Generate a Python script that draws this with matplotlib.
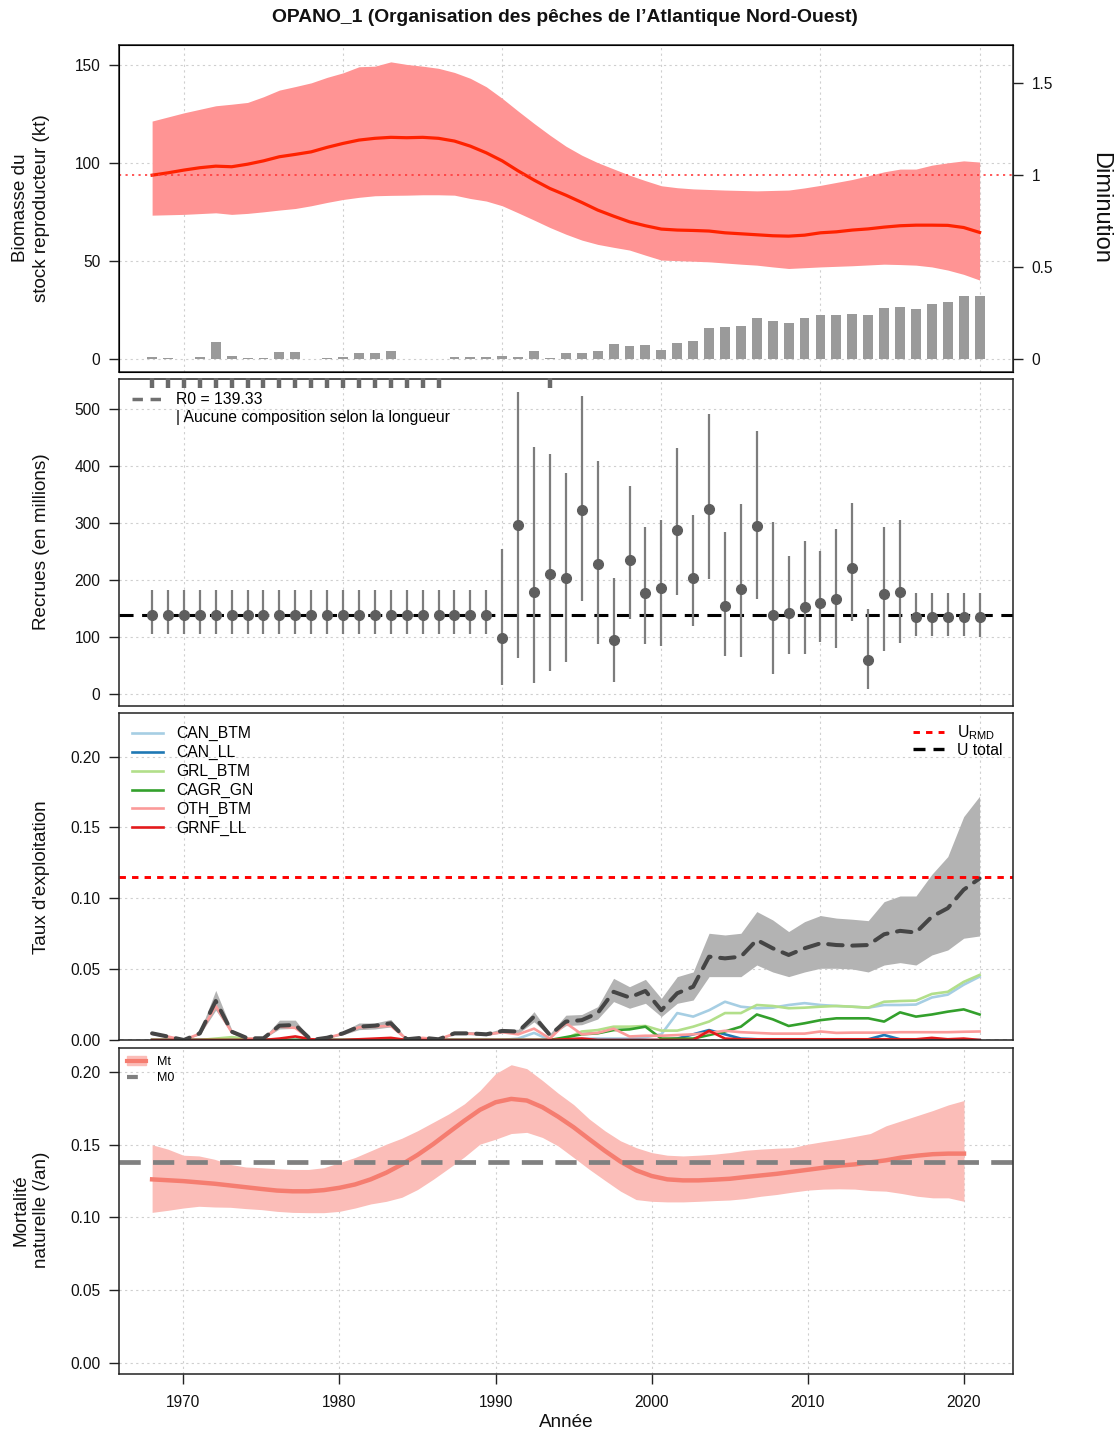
import numpy as np
import matplotlib
matplotlib.use("Agg")
import matplotlib.pyplot as plt
from matplotlib.lines import Line2D
from matplotlib.patches import Patch

plt.rcParams['font.family'] = ['Liberation Sans', 'DejaVu Sans']

# ---- données -------------------------------------------------------------
annees = np.arange(1968, 2021)

# biomasse du stock reproducteur (kt) : médiane et intervalle
ssb_med = [94.0, 95.2, 96.6, 97.8, 98.6, 98.3, 99.6, 101.3, 103.4, 104.6,
           105.9, 108.2, 110.2, 111.9, 112.8, 113.3, 113.1, 113.3, 112.8, 111.4,
           108.8, 105.4, 101.3, 96.2, 91.5, 87.2, 83.8, 80.1, 76.2, 73.1,
           70.2, 68.2, 66.5, 66.0, 65.8, 65.5, 64.6, 64.1, 63.6, 63.1,
           62.9, 63.4, 64.6, 65.1, 66.0, 66.6, 67.5, 68.2, 68.5, 68.5,
           68.4, 67.3, 64.8]
ssb_haut = [121.6, 123.7, 125.8, 127.6, 129.4, 130.2, 131.1, 134.0, 137.4, 139.2,
            141.1, 143.9, 146.2, 149.3, 149.6, 151.8, 150.5, 149.6, 148.5, 146.4,
            143.4, 139.1, 133.2, 126.7, 120.4, 114.4, 108.8, 104.2, 100.4, 97.2,
            94.0, 91.2, 88.6, 87.6, 87.0, 86.7, 86.4, 86.2, 86.0, 86.2,
            86.4, 87.5, 88.8, 90.3, 91.8, 93.7, 95.7, 97.1, 97.1, 99.1,
            100.3, 101.3, 100.7]
ssb_bas = [73.6, 73.8, 74.0, 74.4, 74.8, 74.0, 74.5, 75.3, 76.2, 77.0,
           78.4, 80.1, 81.6, 82.7, 83.5, 83.7, 83.8, 84.0, 84.0, 83.8,
           82.1, 80.8, 78.4, 74.8, 71.1, 67.3, 63.9, 60.9, 58.7, 57.2,
           55.8, 53.2, 50.7, 50.4, 50.1, 49.8, 49.2, 48.6, 48.1, 47.2,
           46.4, 46.8, 47.2, 47.5, 47.8, 48.2, 48.6, 48.4, 48.1, 47.2,
           45.6, 43.4, 40.5]
captures = [1.0, 0.5, 0.1, 1.0, 9.0, 1.9, 0.6, 0.6, 3.6, 3.6,
            0.2, 0.6, 1.0, 3.1, 3.1, 4.3, 0.1, 0.3, 0.1, 1.4,
            1.4, 1.4, 1.6, 1.4, 4.4, 0.6, 3.5, 3.3, 4.1, 7.8,
            6.8, 7.6, 4.7, 8.5, 9.5, 16.1, 16.3, 17.1, 21.2, 19.7,
            18.4, 20.9, 22.9, 22.6, 23.1, 22.8, 26.2, 26.9, 25.8, 28.2,
            29.1, 32.6, 32.3]
b0 = 94.0

# recrues (en millions)
r0 = 139.33
rec_med = [139.33] * 22 + [
    98.6, 296, 179, 210, 204, 323, 228, 95, 235, 177,
    187, 288, 204, 325, 154, 184, 295, 138, 142, 153,
    160, 167, 221, 59, 175, 179, 135, 135, 135, 135, 135]
rec_haut = [182] * 22 + [
    255, 531, 434, 421, 388, 523, 409, 204, 365, 293,
    305, 432, 315, 491, 285, 333, 462, 302, 242, 268,
    251, 289, 336, 150, 293, 306, 177, 177, 177, 178, 178]
rec_bas = [106] * 22 + [
    15, 63, 19, 41, 57, 164, 87, 22, 132, 87,
    85, 174, 119, 202, 66, 65, 166, 35, 70, 70,
    91, 80, 129, 9, 76, 89, 102, 102, 102, 101, 100]
annees_comp = list(range(1968, 1987)) + [1993]

# taux d'exploitation
u_total = [0.0047, 0.0024, 0.0, 0.0047, 0.0275, 0.0059, 0.0012, 0.0012, 0.0101, 0.0106,
           0.0, 0.0016, 0.0047, 0.0094, 0.0101, 0.0118, 0.0005, 0.0016, 0.0005, 0.0047,
           0.0047, 0.004, 0.0064, 0.0059, 0.0165, 0.0035, 0.013, 0.014, 0.019, 0.034,
           0.030, 0.0346, 0.021, 0.033, 0.0376, 0.0588, 0.0576, 0.0588, 0.0706, 0.0647,
           0.060, 0.0647, 0.0682, 0.067, 0.0666, 0.067, 0.0746, 0.077, 0.0758, 0.087,
           0.093, 0.106, 0.114]
u_haut = [0.006, 0.003, 0.0, 0.006, 0.035, 0.0075, 0.0015, 0.0015, 0.014, 0.014,
          0.0, 0.002, 0.006, 0.012, 0.012, 0.0145, 0.0008, 0.002, 0.0008, 0.006,
          0.006, 0.005, 0.008, 0.0075, 0.020, 0.0045, 0.0175, 0.018, 0.0235, 0.0435,
          0.0376, 0.0428, 0.0294, 0.0447, 0.048, 0.0753, 0.0741, 0.0753, 0.0906, 0.0847,
          0.0765, 0.0835, 0.0878, 0.086, 0.0852, 0.0842, 0.0976, 0.1016, 0.1016, 0.1169,
          0.1294, 0.1576, 0.172]
u_bas = [0.0037, 0.0019, 0.0, 0.0037, 0.021, 0.0046, 0.0009, 0.0009, 0.0078, 0.0082,
         0.0, 0.0012, 0.0037, 0.0073, 0.0078, 0.0092, 0.0004, 0.0012, 0.0004, 0.0037,
         0.0037, 0.0031, 0.005, 0.0046, 0.0128, 0.0027, 0.0101, 0.0108, 0.0148, 0.0271,
         0.0224, 0.0259, 0.0165, 0.0259, 0.0282, 0.0447, 0.0447, 0.0447, 0.0529, 0.048,
         0.0447, 0.048, 0.0506, 0.0506, 0.0501, 0.048, 0.0529, 0.0546, 0.0529, 0.060,
         0.0635, 0.0718, 0.0734]
u_rmd = 0.1153

flottilles = ['CAN_BTM', 'CAN_LL', 'GRL_BTM', 'CAGR_GN', 'OTH_BTM', 'GRNF_LL']
couleurs_flottilles = ['#a6cee3', '#1f78b4', '#b2df8a', '#33a02c', '#fb9a99', '#e31a1c']
u_can_btm = [0.0] * 23 + [0.001, 0.005, 0.0, 0.001, 0.001, 0.001, 0.001,
                          0.001, 0.002, 0.004, 0.019, 0.0165, 0.021, 0.027, 0.0235, 0.0224, 0.0228,
                          0.0247, 0.026, 0.0247, 0.024, 0.0235, 0.0228, 0.0247, 0.0247, 0.025, 0.030,
                          0.032, 0.039, 0.0447]
u_can_ll = [0.0] * 33 + [0.001, 0.004, 0.007, 0.004, 0.001, 0.0005, 0.0,
                         0.0, 0.0, 0.0, 0.0, 0.0, 0.0005, 0.0035, 0.0005, 0.0, 0.0,
                         0.0, 0.0, 0.0]
u_grl_btm = [0.0, 0.0, 0.0, 0.0, 0.001, 0.002, 0.001, 0.0, 0.0, 0.0,
             0.0, 0.0, 0.0, 0.0, 0.0, 0.0, 0.0, 0.0, 0.0, 0.0,
             0.0, 0.0, 0.0, 0.0, 0.0, 0.0, 0.001, 0.006, 0.007, 0.0094,
             0.0094, 0.0099, 0.0066, 0.0066, 0.0094, 0.013, 0.019, 0.019, 0.0247, 0.024,
             0.0224, 0.0228, 0.0235, 0.024, 0.0235, 0.0228, 0.027, 0.0275, 0.0278, 0.0325,
             0.034, 0.041, 0.0459]
u_cagr_gn = [0.0] * 26 + [0.002, 0.004, 0.0047, 0.007,
                          0.0075, 0.0094, 0.001, 0.001, 0.001, 0.0035, 0.006, 0.0094, 0.018, 0.0146,
                          0.0099, 0.0118, 0.014, 0.0153, 0.0153, 0.0153, 0.013, 0.0195, 0.0165, 0.018,
                          0.020, 0.0216, 0.018]
u_oth_btm = [0.0045, 0.0024, 0.0, 0.0045, 0.024, 0.0055, 0.001, 0.001, 0.0095, 0.0085,
             0.0, 0.0015, 0.0045, 0.009, 0.0095, 0.010, 0.0005, 0.0015, 0.0005, 0.0045,
             0.0045, 0.0038, 0.0055, 0.004, 0.008, 0.001, 0.012, 0.004, 0.005, 0.008,
             0.0025, 0.003, 0.003, 0.0035, 0.004, 0.005, 0.0065, 0.0055, 0.005, 0.0045,
             0.0045, 0.0045, 0.006, 0.005, 0.0052, 0.0052, 0.0052, 0.0055, 0.0055, 0.0055,
             0.0055, 0.0058, 0.006]
u_grnf_ll = [0.0, 0.0, 0.0, 0.0, 0.0, 0.0, 0.0, 0.0, 0.001, 0.0025,
             0.0005, 0.0, 0.0, 0.0005, 0.001, 0.0015, 0.0, 0.0, 0.0, 0.0,
             0.0, 0.0, 0.0, 0.0, 0.0, 0.0, 0.0005, 0.001, 0.0, 0.0,
             0.0, 0.0, 0.0, 0.0, 0.0, 0.0065, 0.001, 0.0005, 0.0005, 0.0005,
             0.0005, 0.0005, 0.0005, 0.0005, 0.0005, 0.0005, 0.0005, 0.0005, 0.0005, 0.0015,
             0.0005, 0.001, 0.0]

# mortalité naturelle
m_t = [0.1262, 0.1256, 0.125, 0.1241, 0.1232, 0.122, 0.1208, 0.1196, 0.1185, 0.118,
       0.118, 0.1188, 0.1204, 0.1227, 0.1262, 0.1308, 0.1365, 0.143, 0.1504, 0.1585,
       0.1665, 0.174, 0.1792, 0.1815, 0.1804, 0.1758, 0.1693, 0.162, 0.1538, 0.1458,
       0.1384, 0.1324, 0.1285, 0.1262, 0.1255, 0.1255, 0.126, 0.1266, 0.1278, 0.1289,
       0.130, 0.1314, 0.1328, 0.1342, 0.1356, 0.1365, 0.1379, 0.1393, 0.1412, 0.1425,
       0.1435, 0.1439, 0.1439]
m_haut = [0.150, 0.147, 0.1428, 0.1423, 0.140, 0.1365, 0.1347, 0.1342, 0.1335, 0.133,
          0.133, 0.1342, 0.1377, 0.1412, 0.1458, 0.1504, 0.1545, 0.1596, 0.1654, 0.1712,
          0.1781, 0.1873, 0.1989, 0.205, 0.2023, 0.1942, 0.1855, 0.1776, 0.1677, 0.1596,
          0.1527, 0.148, 0.1446, 0.1428, 0.1423, 0.1428, 0.1435, 0.1446, 0.1462, 0.147,
          0.1476, 0.148, 0.1504, 0.1522, 0.1538, 0.1557, 0.1577, 0.163, 0.1665, 0.170,
          0.1735, 0.1774, 0.1804]
m_bas = [0.1035, 0.1049, 0.1065, 0.1077, 0.1072, 0.107, 0.1061, 0.1054, 0.1042, 0.1035,
         0.1033, 0.1033, 0.1042, 0.1065, 0.1093, 0.1111, 0.1139, 0.1192, 0.1262, 0.1338,
         0.1416, 0.1504, 0.1538, 0.1577, 0.1585, 0.155, 0.1492, 0.1412, 0.1331, 0.1255,
         0.1181, 0.1123, 0.1111, 0.1107, 0.1107, 0.1111, 0.1116, 0.112, 0.113, 0.1146,
         0.1158, 0.1174, 0.1188, 0.1195, 0.1197, 0.1195, 0.1185, 0.1181, 0.1165, 0.1146,
         0.1135, 0.1135, 0.1111]
m0 = 0.1384

# ---- mise en page ----------------------------------------------------------
W, H = 1115, 1431
fig = plt.figure(figsize=(W / 100, H / 100), dpi=100)
TXT = '#111111'
FS_TICK = 11.2
FS_LAB = 13.6
FS_LEG = 11.3


def panneau(haut, bas, gauche=119, droite=1012.7):
    return fig.add_axes([gauche / W, 1 - bas / H, (droite - gauche) / W, (bas - haut) / H])


def habiller(ax, yticks, ylabels=None, xlabels=False):
    ax.set_xticks(range(1970, 2021, 10))
    ax.set_yticks(yticks)
    if ylabels is not None:
        ax.set_yticklabels(ylabels)
    ax.grid(True, color='#cfcfcf', linestyle=(0, (2, 3)), linewidth=0.8)
    ax.set_axisbelow(True)
    ax.tick_params(axis='y', direction='out', length=7, width=1, labelsize=FS_TICK,
                   colors='#222222', labelcolor=TXT, pad=6.5)
    if xlabels:
        ax.tick_params(axis='x', direction='out', length=7, width=1, labelsize=FS_TICK,
                       colors='#222222', labelcolor=TXT, pad=8)
    else:
        ax.tick_params(axis='x', length=0, labelbottom=False)
    for s in ax.spines.values():
        s.set_color('#222222')
        s.set_linewidth(1.1)


xlim_haut = (1965.92, 2022.08)

# panneau 1 : biomasse
ax1 = panneau(45, 372)
ax1.fill_between(annees, ssb_bas, ssb_haut, color='#ff9494', lw=0)
ax1.bar(annees, captures, width=0.62, color='#9a9a9a')
ax1.plot(annees, ssb_med, color='#ff2200', lw=2.3)
ax1.axhline(b0, color='#ff3b3b', ls=(0, (1.3, 2.6)), lw=1.2)
ax1.set_xlim(xlim_haut)
ax1.set_ylim(-6.4, 160.4)
habiller(ax1, [0, 50, 100, 150])
ax1r = ax1.twinx()
ax1r.set_ylim(-6.4 / b0, 160.4 / b0)
ax1r.set_yticks([0, 0.5, 1, 1.5])
ax1r.set_yticklabels(['0', '0.5', '1', '1.5'])
ax1r.tick_params(axis='y', direction='out', length=7, width=1, labelsize=FS_TICK,
                 colors='#222222', labelcolor=TXT, pad=6.5)
ax1r.spines['right'].set_color('#222222')
fig.text(1100 / W, 1 - 208 / H, 'Diminution', rotation=-90, ha='center', va='center',
         fontsize=17, color=TXT)

# panneau 2 : recrues
ax2 = panneau(379, 706)
ax2.axhline(r0, color='black', ls=(0, (4.6, 2.8)), lw=2.2, zorder=2)
ax2.vlines(annees, rec_bas, rec_haut, color='#7d7d7d', lw=1.6, zorder=3)
ax2.plot(annees, rec_med, 'o', color='#5e5e5e', ms=7, zorder=4)
ax2.vlines(annees_comp, 0.972, 1.004, transform=ax2.get_xaxis_transform(),
           color='#6a6a6a', lw=3.2, clip_on=False, zorder=5)
ax2.set_xlim(xlim_haut)
ax2.set_ylim(-21, 553)
habiller(ax2, [0, 100, 200, 300, 400, 500])
ax2.legend([Line2D([], [], color='#707070', ls=(0, (3, 2.2)), lw=2.5),
            Line2D([], [], ls='none')],
           ['R0 = 139.33', '| Aucune composition selon la longueur'],
           loc='upper left', frameon=False, fontsize=FS_LEG, handlelength=1.95,
           handletextpad=0.85, labelspacing=0.15, borderaxespad=0.45)

# panneau 3 : taux d'exploitation
ax3 = panneau(713, 1040)
ax3.fill_between(annees, u_bas, u_haut, color='#b3b3b3', lw=0)
ax3.axhline(0, color='black', ls=(0, (3, 3)), lw=1)
series = [u_can_btm, u_can_ll, u_grl_btm, u_cagr_gn, u_oth_btm, u_grnf_ll]
for nom, coul, serie in zip(flottilles, couleurs_flottilles, series):
    ax3.plot(annees, serie, color=coul, lw=1.9, label=nom)
ax3.plot(annees, u_total, color='#454545', lw=2.9, ls=(0, (3.6, 2.4)),
         dash_capstyle='round')
ax3.axhline(u_rmd, color='red', ls=(0, (2.2, 2.1)), lw=2.1)
ax3.set_xlim(xlim_haut)
ax3.set_ylim(0, 0.2307)
habiller(ax3, [0, 0.05, 0.10, 0.15, 0.20], ['0.00', '0.05', '0.10', '0.15', '0.20'])
leg_flottilles = ax3.legend(loc='upper left', frameon=False, fontsize=FS_LEG,
                            handlelength=1.95, handletextpad=0.85, labelspacing=0.24,
                            borderaxespad=0.45)
ax3.add_artist(leg_flottilles)
ax3.legend([Line2D([], [], color='red', ls=(0, (2.2, 2.1)), lw=2.1),
            Line2D([], [], color='black', ls=(0, (3.6, 2.4)), lw=2.4)],
           [r'U$_{\mathregular{RMD}}$', 'U total'],
           loc='upper right', frameon=False, fontsize=FS_LEG, handlelength=1.95,
           handletextpad=0.85, labelspacing=0.05, borderaxespad=0.25)

# panneau 4 : mortalité naturelle
ax4 = panneau(1048, 1374)
ax4.fill_between(annees, m_bas, m_haut, color='#fbbdb8', lw=0)
ax4.plot(annees, m_t, color='#f57d70', lw=3.2)
ax4.axhline(m0, color='#808080', lw=3.4, ls=(0, (4.5, 2.6)))
ax4.set_xlim(1965.88, 2023.12)
ax4.set_ylim(-0.0076, 0.2165)
habiller(ax4, [0, 0.05, 0.10, 0.15, 0.20], ['0.00', '0.05', '0.10', '0.15', '0.20'],
         xlabels=True)
ax4.legend([(Patch(color='#fbbdb8'), Line2D([], [], color='#f57d70', lw=3)),
            Line2D([], [], color='#808080', lw=3, ls=(0, (2.6, 10)))],
           ['Mt', 'M0'], loc='upper left', frameon=False, fontsize=9,
           handlelength=1.5, handletextpad=0.9, labelspacing=0.3, borderaxespad=0.25)
ax4.set_xlabel('Année', fontsize=FS_LAB, labelpad=3, color=TXT)

# titres des axes
fig.text(31 / W, 1 - 208 / H, 'Biomasse du\nstock reproducteur (kt)', rotation=90,
         ha='center', va='center', fontsize=FS_LAB, linespacing=1.3, color=TXT)
fig.text(42 / W, 1 - 542 / H, 'Recrues (en millions)', rotation=90,
         ha='center', va='center', fontsize=FS_LAB, color=TXT)
fig.text(42 / W, 1 - 877 / H, "Taux d'exploitation", rotation=90,
         ha='center', va='center', fontsize=FS_LAB, color=TXT)
fig.text(31 / W, 1 - 1210 / H, 'Mortalité\nnaturelle (/an)', rotation=90,
         ha='center', va='center', fontsize=FS_LAB, linespacing=1.3, color=TXT)
fig.text(565 / W, 1 - 17 / H,
         "OPANO_1 (Organisation des pêches de l\u2019Atlantique Nord-Ouest)",
         ha='center', va='center', fontsize=13.9, fontweight='bold', color=TXT)

fig.savefig('out.png', dpi=100)
